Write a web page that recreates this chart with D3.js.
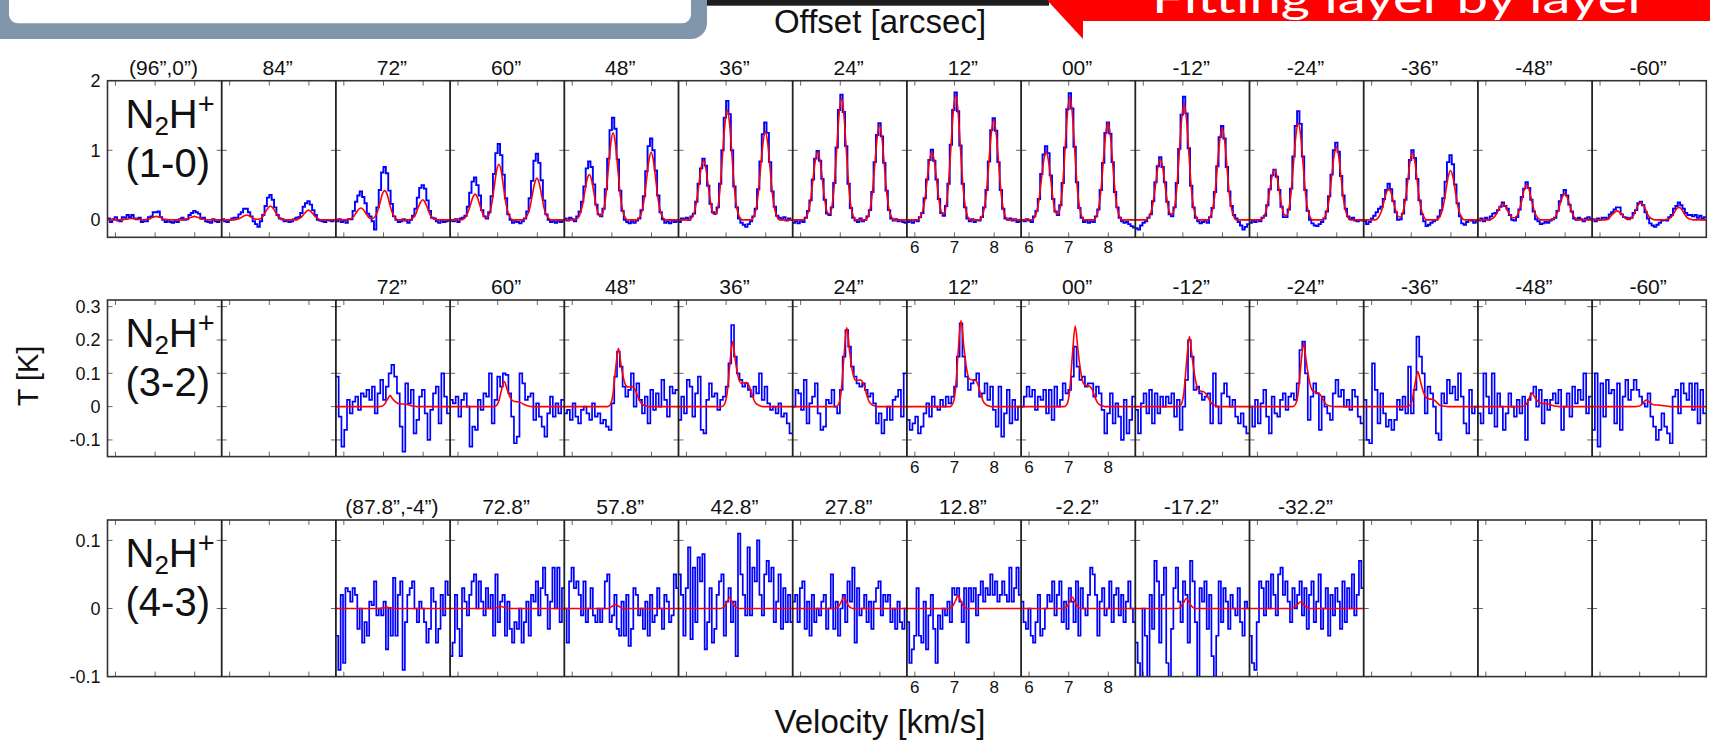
<!DOCTYPE html>
<html><head><meta charset="utf-8">
<script src="https://cdn.jsdelivr.net/npm/d3@7"></script>
<style>
body{margin:0;background:#fff;}
svg{display:block;}
text{font-family:"Liberation Sans",Arial,Helvetica,sans-serif;fill:#111;}
</style>
</head><body>
<svg id="chart" width="1710" height="742"></svg>
<script>
// ---------------- data ----------------
const velocityDomain = [5.8, 8.68];          // km/s across one panel
const velocityTicks = [6, 7, 8];
const labelledVelocityPanels = [7, 8];

const row1Offsets = ["(96”,0”)","84”","72”","60”","48”","36”","24”","12”","00”","-12”","-24”","-36”","-48”","-60”"];
const row2Offsets = ["","","72”","60”","48”","36”","24”","12”","00”","-12”","-24”","-36”","-48”","-60”"];
const row3Offsets = ["","","(87.8”,-4”)","72.8”","57.8”","42.8”","27.8”","12.8”","-2.2”","-17.2”","-32.2”","","",""];

const row1YTicks = [0, 1, 2];
const row2YTicks = [-0.1, 0, 0.1, 0.2, 0.3];
const row3YTicks = [-0.1, 0, 0.1];

// N2H+ (1-0): channel width 0.06 km/s, values in 0.01 K
const row1Blue = [
[2,-3,1,4,-1,-2,4,3,7,4,7,2,1,3,-3,-2,-2,4,5,11,11,12,4,0,-3,-1,-3,-4,-2,-3,1,3,0,1,7,10,13,11,9,2,3,-2,-3,-4,1,-2,-3,0],
[1,-2,-3,0,2,3,3,8,11,16,16,11,5,-2,-6,-10,-2,7,20,32,36,29,18,7,2,1,-2,-1,-3,-2,1,3,4,10,19,24,27,22,14,7,0,-1,-2,-3,0,-1,-2,0],
[-2,1,-3,-1,-4,1,1,13,26,35,41,33,24,9,5,-2,-14,18,43,68,76,67,42,23,5,0,-3,-2,1,-1,-4,0,6,16,32,46,50,45,28,13,3,2,-2,-4,-1,-3,-2,-1],
[-1,-2,1,-3,2,3,6,19,39,55,61,50,35,14,5,2,11,34,66,96,109,93,65,31,8,0,-4,-2,-3,-5,-2,2,12,31,56,85,95,82,57,28,8,0,-3,-2,-4,-1,-3,-2],
[2,-1,3,1,-2,5,12,26,48,74,84,76,51,22,8,5,16,44,88,129,147,131,87,42,13,0,-3,-5,-2,-4,-1,2,14,34,70,106,117,100,71,35,11,1,-4,-2,-5,-1,-3,-2],
[-3,2,1,3,0,5,9,26,52,74,88,78,49,23,11,9,18,52,100,147,171,152,100,48,18,2,-4,-7,-10,-6,-2,5,16,44,84,123,140,125,83,41,19,6,3,1,4,-1,2,0],
[-4,-2,-5,-1,-3,3,13,28,58,88,99,85,59,29,9,7,18,53,104,158,180,155,106,52,17,3,-1,-3,2,-2,0,5,14,40,83,122,139,120,82,42,14,2,-1,1,-2,0,-3,-4],
[-3,-1,-4,0,-2,4,10,31,58,86,101,85,58,30,10,6,20,52,108,158,183,156,107,52,18,2,-2,1,-3,0,-1,4,18,43,84,129,146,128,83,43,16,2,0,2,-1,1,-3,-2],
[0,-2,1,-1,-3,5,13,30,66,94,106,96,64,30,12,7,21,53,104,159,182,160,105,54,17,3,-3,-1,-4,-2,-3,5,15,43,82,125,140,124,83,40,18,3,-2,-4,-3,-6,-9,-11],
[-12,-14,-8,-4,-2,3,8,27,54,77,90,76,54,26,8,5,18,53,102,151,177,153,103,49,18,3,-2,-5,-3,-1,-4,4,17,40,77,119,135,117,76,41,20,7,2,-3,-8,-14,-10,-6],
[-4,-1,-3,0,-2,3,6,21,44,64,72,62,43,19,4,4,15,45,91,135,156,138,91,43,13,0,-5,-8,-9,-6,-3,2,12,34,65,100,111,98,63,35,16,5,1,3,-1,-2,0,-1],
[-2,-6,-3,2,6,11,16,19,30,43,52,44,27,11,0,1,9,29,59,86,100,89,59,28,8,-2,-9,-7,-4,-2,0,5,14,31,55,83,93,80,51,24,5,-5,-7,-3,0,-1,-4,-2],
[-1,2,-2,3,0,5,9,10,14,19,25,20,16,7,0,-1,4,15,33,45,54,46,29,12,1,-2,-6,-5,-3,-4,-1,1,3,13,27,36,43,35,22,12,2,0,3,1,-2,2,4,1],
[1,-2,2,0,3,3,2,8,11,15,18,18,8,4,3,1,3,10,14,24,26,21,11,2,-5,-8,-10,-7,-4,-1,0,-1,4,7,16,20,25,21,16,10,7,7,5,7,3,6,2,4]
];
const row1Model = [
[0,0,0,0,0,0,0,1,1,2,2,2,1,1,0,0,1,1,3,4,5,4,3,1,1,0,0,0,0,0,0,0,1,1,3,4,5,4,3,1,1,0,0,0,0,0,0,0],
[0,0,0,0,0,0,1,2,4,6,7,6,4,2,1,1,2,6,12,17,20,17,12,6,2,1,0,0,0,0,0,0,2,4,8,12,14,12,8,4,2,0,0,0,0,0,0,0],
[0,0,0,0,0,1,2,5,10,15,17,15,10,5,2,2,5,12,24,37,42,37,24,12,5,1,0,0,0,0,0,1,3,8,17,25,29,25,17,8,3,1,0,0,0,0,0,0],
[0,0,0,0,0,1,4,11,21,32,37,32,21,11,4,3,9,23,46,70,80,70,46,23,9,2,0,0,0,0,0,2,7,17,35,52,60,52,35,17,7,2,0,0,0,0,0,0],
[0,0,0,0,0,2,7,19,38,57,65,57,38,19,7,6,14,36,73,109,125,109,73,36,14,4,0,0,0,0,0,3,11,28,56,84,97,84,56,28,11,3,0,0,0,0,0,0],
[0,0,0,0,0,3,9,25,49,74,85,74,49,25,9,8,17,46,92,137,158,137,92,46,17,5,0,0,0,0,0,4,14,37,74,110,127,110,74,37,14,4,0,0,0,0,0,0],
[0,0,0,0,0,3,11,28,57,85,98,85,57,28,11,8,19,51,102,152,175,152,102,51,19,5,0,0,0,0,0,4,15,39,79,118,136,118,79,39,15,4,0,0,0,0,0,0],
[0,0,0,0,0,3,11,28,57,85,98,85,57,28,11,8,20,52,104,156,179,156,104,52,20,5,0,0,0,0,0,4,16,42,84,125,144,125,84,42,16,4,0,0,0,0,0,0],
[0,0,0,0,0,3,11,28,57,85,98,85,57,28,11,8,19,51,103,154,177,154,103,51,19,5,0,0,0,0,0,4,15,41,81,122,140,122,81,41,15,4,0,0,0,0,0,0],
[0,0,0,0,0,3,10,25,50,76,87,76,50,25,10,8,18,48,97,145,167,145,97,48,18,5,0,0,0,0,0,4,15,38,77,115,132,115,77,38,15,4,0,0,0,0,0,0],
[0,0,0,0,0,2,8,21,42,63,72,63,42,21,8,6,15,40,81,121,139,121,81,40,15,4,0,0,0,0,0,3,12,30,61,91,105,91,61,30,12,3,0,0,0,0,0,0],
[0,0,0,0,0,1,5,13,26,39,45,39,26,13,5,4,11,28,56,84,96,84,56,28,11,3,0,0,0,0,0,2,8,21,41,62,71,62,41,21,8,2,0,0,0,0,0,0],
[0,0,0,0,0,1,3,7,13,20,23,20,13,7,3,3,6,15,29,44,50,44,29,15,6,2,0,0,0,0,0,1,4,11,22,33,38,33,22,11,4,1,0,0,0,0,0,0],
[0,0,0,0,0,0,1,4,8,11,13,11,8,4,1,1,3,7,15,22,25,22,15,7,3,1,0,0,0,0,0,1,2,5,10,16,18,16,10,5,2,1,0,0,0,0,0,0]
];

// N2H+ (3-2): channel width 0.07 km/s, values in mK
const row2Blue = [
null, null,
[90,-30,-120,-70,20,-20,15,30,-10,40,30,50,20,60,-20,40,80,20,60,100,125,90,40,-60,-135,70,10,50,-80,-40,30,50,-20,-100,-10,40,60,-50,100,30,-20],
[20,10,30,-30,20,40,0,-120,-60,-70,20,-10,40,30,100,-50,20,90,60,100,95,40,-30,-110,-90,100,70,20,30,40,-40,10,-30,-60,-90,-20,30,-30,10,-20,20],
[-20,-10,-40,10,-30,-50,-10,0,-20,-40,10,-30,-20,-50,-40,-60,-70,10,90,165,120,60,30,50,100,0,70,20,-20,30,-50,50,-10,40,0,80,20,-30,60,40,50],
[-40,30,-20,80,60,-30,40,90,-70,-80,20,70,30,40,-10,20,30,60,130,245,150,100,80,60,70,50,30,60,40,100,20,60,10,-10,0,-20,10,-30,-20,-50,-80],
[0,50,40,-10,80,-50,10,30,70,-20,-70,-60,20,10,50,0,-20,50,150,230,180,120,90,70,60,70,50,30,40,10,-50,-20,-80,-40,0,-40,20,30,50,-30,100],
[-40,-70,-50,-30,-80,-60,-20,10,-30,30,0,-10,20,0,30,10,30,60,150,250,150,90,50,70,80,100,30,40,70,20,60,-10,-60,60,-90,-20,50,-50,20,-40,0],
[0,30,60,30,50,-10,30,20,50,-20,50,-40,60,0,20,70,40,50,90,180,120,80,90,60,70,70,30,60,40,-10,-80,-20,40,-50,10,-30,-100,20,-80,-40,30],
[-10,-80,10,40,-20,50,-50,40,-20,30,0,30,10,40,-30,20,-70,0,80,200,150,50,60,40,20,30,40,-50,100,0,-50,40,70,30,0,20,-30,-50,-20,-60,-80],
[0,-60,20,-50,10,50,-30,-80,30,-20,-30,20,40,-10,30,40,20,70,170,195,100,-40,30,70,40,-70,30,0,-20,-40,40,80,30,50,0,20,-10,50,30,-30,-50],
[20,-100,-110,130,50,-50,40,-20,-60,-40,-70,-40,20,-10,30,-20,120,-20,50,210,150,100,-20,60,40,0,-80,-100,40,10,80,40,60,20,100,30,-50,-80,50,-20,0],
[-20,-50,100,30,-20,100,-60,40,0,-70,-20,40,0,-30,20,-20,30,-100,20,40,60,0,50,-50,20,-10,20,40,10,50,-70,0,40,-30,60,10,50,20,100,-20,30],
[-70,100,-120,70,-30,80,40,50,-50,70,-70,30,80,20,50,80,50,30,10,0,40,-30,-60,-100,-70,-20,-60,-80,-110,30,50,-20,70,40,20,70,-10,70,-50,50,-20]
];
const row2Model = [
null, null,
[0,0,0,0,0,0,0,0,0,0,0,0,0,0,0,0,1,7,21,33,23,14,9,8,8,7,4,2,1,0,0,0,0,0,0,0,0,0,0,0,0],
[0,0,0,0,0,0,0,0,0,0,0,0,0,0,0,0,2,15,49,75,53,30,18,15,14,12,7,3,1,0,0,0,0,0,0,0,0,0,0,0,0],
[0,0,0,0,0,0,0,0,0,0,0,0,0,0,0,0,5,35,114,175,123,79,60,59,60,51,30,12,5,2,0,0,0,0,0,0,0,0,0,0,0],
[0,0,0,0,0,0,0,0,0,0,0,0,0,0,0,0,6,39,127,195,137,90,70,71,72,61,36,14,6,2,0,0,0,0,0,0,0,0,0,0,0],
[0,0,0,0,0,0,0,0,0,0,0,0,0,0,0,0,7,47,154,237,166,107,80,79,80,68,40,16,6,2,0,0,0,0,0,0,0,0,0,0,0],
[0,0,0,0,0,0,0,0,0,0,0,0,0,0,0,0,8,52,168,258,181,114,83,80,80,68,40,16,6,2,0,0,0,0,0,0,0,0,0,0,0],
[0,0,0,0,0,0,0,0,0,0,0,0,0,0,0,0,7,48,157,242,169,104,69,63,62,53,31,12,5,2,0,0,0,0,0,0,0,0,0,0,0],
[0,0,0,0,0,0,0,0,0,0,0,0,0,0,0,0,6,42,137,210,147,88,54,47,45,38,23,9,4,1,0,0,0,0,0,0,0,0,0,0,0],
[0,0,0,0,0,0,0,0,0,0,0,0,0,0,0,0,6,38,124,190,133,80,50,44,42,36,21,8,3,1,0,0,0,0,0,0,0,0,0,0,0],
[0,0,0,0,0,0,0,0,0,0,0,0,0,0,0,0,3,21,68,105,74,44,27,23,22,19,11,4,2,1,0,0,0,0,0,0,0,0,0,0,0],
[0,0,0,0,0,0,0,0,0,0,0,0,0,0,0,0,1,8,26,40,28,17,11,9,9,8,5,2,1,0,0,0,0,0,0,0,0,0,0,0,0],
[0,0,0,0,0,0,0,0,0,0,0,0,0,0,0,0,1,4,13,20,14,8,5,5,4,3,2,1,0,0,0,0,0,0,0,0,0,0,0,0,0]
];

// N2H+ (4-3): channel width 0.06 km/s, values in mK
const row3Blue = [
null, null,
[-40,-90,20,-80,30,25,10,30,20,-30,0,-50,-20,-40,10,5,40,-10,0,-10,10,-60,0,-40,45,-40,20,40,-90,-20,20,30,40,0,-20,10,0,-20,-50,-30,30,10,-50,-30,20,-10,40,20],
[-70,-50,20,-30,-70,30,10,-10,20,40,50,0,40,10,-10,30,0,20,-40,50,-20,10,20,-40,10,-30,-50,-20,-30,0,-50,-20,10,-40,20,10,40,-10,30,60,20,-30,10,60,0,60,-20,30],
[0,-50,40,60,30,40,20,-10,40,-20,0,30,-10,-20,0,-20,0,40,50,-20,-10,20,-30,-40,10,-40,20,-55,-30,30,20,-10,0,-30,10,-40,20,-20,-10,30,0,-30,20,10,-20,-10,50,30],
[50,20,-40,30,90,-45,60,-20,75,40,80,-60,-20,30,-50,-30,20,40,50,-40,10,30,-20,10,-70,110,50,20,-10,90,-10,60,40,100,20,-10,50,70,40,60,-20,10,50,-30,30,-20,20,-20],
[10,20,-20,30,40,-30,10,-40,20,-20,0,-10,10,20,-30,0,50,-30,10,-40,0,20,-20,40,10,60,-50,30,-10,0,20,-20,10,-30,10,30,40,-10,20,10,20,-20,0,-30,10,-20,-30,0],
[-20,-80,-60,-40,30,-40,-50,10,-60,-10,20,-30,-80,-10,-30,0,-10,10,-20,30,20,30,10,-20,30,-50,30,10,30,-10,20,40,10,30,20,50,20,40,10,20,40,20,10,60,10,30,60,20],
[10,-20,-30,0,-40,-50,-20,20,-40,-30,0,20,10,40,-10,20,40,-20,10,-30,30,10,-20,40,-40,30,0,-10,20,60,50,20,-40,10,30,-10,0,40,-20,20,30,-10,20,-20,10,40,0,-20],
[-50,-80,-100,0,-40,-100,20,-30,70,40,-50,20,60,-80,-100,-30,30,60,10,-20,40,20,-50,70,40,-20,-100,30,10,40,-30,20,-70,-100,-40,40,-20,30,10,-30,20,0,-10,30,-20,-40,10,0],
[-40,-80,-90,-20,40,30,-10,40,0,50,20,-10,50,60,20,40,10,-20,30,0,20,40,-10,30,-30,20,40,-20,10,50,-30,0,30,-40,20,-10,30,10,-30,40,-20,30,0,50,-10,20,70,30],
null, null, null
];
const row3Model = [
null, null,
[0,0,0,0,0,0,0,0,0,0,0,0,0,0,0,0,0,0,0,1,1,2,1,1,0,0,0,0,0,0,0,0,0,0,0,0,0,0,0,0,0,0,0,0,0,0,0,0],
[0,0,0,0,0,0,0,0,0,0,0,0,0,0,0,0,0,0,0,1,2,3,2,1,0,0,0,0,0,0,0,0,0,0,0,0,0,0,0,0,0,0,0,0,0,0,0,0],
[0,0,0,0,0,0,0,0,0,0,0,0,0,0,0,0,0,0,0,2,4,6,4,2,0,0,0,0,0,0,0,0,0,0,0,0,0,0,0,0,0,0,0,0,0,0,0,0],
[0,0,0,0,0,0,0,0,0,0,0,0,0,0,0,0,0,0,1,4,10,16,10,4,1,0,0,0,0,0,0,0,0,0,0,0,0,0,0,0,0,0,0,0,0,0,0,0],
[0,0,0,0,0,0,0,0,0,0,0,0,0,0,0,0,0,0,1,4,11,17,11,4,1,0,0,0,0,0,0,0,0,0,0,0,0,0,0,0,0,0,0,0,0,0,0,0],
[0,0,0,0,0,0,0,0,0,0,0,0,0,0,0,0,0,0,1,5,12,19,12,5,1,0,0,0,0,0,0,0,0,0,0,0,0,0,0,0,0,0,0,0,0,0,0,0],
[0,0,0,0,0,0,0,0,0,0,0,0,0,0,0,0,0,0,1,4,11,17,11,4,1,0,0,0,0,0,0,0,0,0,0,0,0,0,0,0,0,0,0,0,0,0,0,0],
[0,0,0,0,0,0,0,0,0,0,0,0,0,0,0,0,0,0,1,4,10,15,10,4,1,0,0,0,0,0,0,0,0,0,0,0,0,0,0,0,0,0,0,0,0,0,0,0],
[0,0,0,0,0,0,0,0,0,0,0,0,0,0,0,0,0,0,1,3,7,10,7,3,1,0,0,0,0,0,0,0,0,0,0,0,0,0,0,0,0,0,0,0,0,0,0,0],
null, null, null
];

const transitions = ["(1-0)", "(3-2)", "(4-3)"];

// ---------------- layout ----------------
const panelLeft = 107.5, panelWidth = 114.2, panelCount = 14;
const rowTops = [80.7, 300, 520], rowHeight = 156.6;
const rowCfg = [
  {offsets: row1Offsets, blue: row1Blue, model: row1Model, unit: 0.01,  dv: 0.06, yDomain: [-0.25, 2],   yTicks: row1YTicks},
  {offsets: row2Offsets, blue: row2Blue, model: row2Model, unit: 0.001, dv: 0.07, yDomain: [-0.15, 0.32], yTicks: row2YTicks},
  {offsets: row3Offsets, blue: row3Blue, model: row3Model, unit: 0.001, dv: 0.06, yDomain: [-0.1, 0.13],  yTicks: row3YTicks}
];

const svg = d3.select("#chart");

// slide decorations
const deco = svg.append("g");
deco.append("rect").attr("x",-20).attr("y",-40).attr("width",727).attr("height",79).attr("rx",16).attr("fill","#8096ab");
deco.append("rect").attr("x",9).attr("y",-40).attr("width",682).attr("height",63.3).attr("rx",9).attr("fill","#fff");
deco.append("rect").attr("x",707).attr("y",0).attr("width",342).attr("height",5.7).attr("fill","#1e1e1e");
deco.append("path").attr("d","M1047,0 L1083,39 L1083,21 L1710,21 L1710,0 Z").attr("fill","#ff0000");
deco.append("text").attr("x",1152).attr("y",13).attr("font-size",40).attr("textLength",496)
  .attr("lengthAdjust","spacingAndGlyphs").style("font-family","Lato, 'Open Sans', sans-serif").style("fill","#fff")
  .text("Fitting layer by layer");

// axis titles
svg.append("text").attr("x",880).attr("y",33).attr("text-anchor","middle").attr("font-size",33).text("Offset [arcsec]");
svg.append("text").attr("x",880).attr("y",733).attr("text-anchor","middle").attr("font-size",33).text("Velocity [km/s]");
svg.append("text").attr("transform","translate(38,376) rotate(-90)").attr("text-anchor","middle").attr("font-size",29).text("T [K]");

rowCfg.forEach((row, r) => {
  const top = rowTops[r], bottom = top + rowHeight;
  const g = svg.append("g");
  const y = d3.scaleLinear().domain(row.yDomain).range([bottom, top]);
  const clipId = "clip" + r;
  svg.append("clipPath").attr("id", clipId).append("rect")
    .attr("x", panelLeft).attr("y", top).attr("width", panelWidth * panelCount).attr("height", rowHeight);

  // y tick labels
  row.yTicks.forEach(t => {
    g.append("text").attr("x", panelLeft - 7).attr("y", y(t)).attr("dy","0.36em")
      .attr("text-anchor","end").attr("font-size",18).text(String(t));
  });

  // ticks
  const tickG = g.append("g").attr("stroke","#666").attr("stroke-width",1);
  for (let b = 0; b <= panelCount; b++) {
    const xb = panelLeft + b * panelWidth;
    row.yTicks.forEach(t => {
      const x1 = b === 0 ? xb : xb - 5, x2 = b === panelCount ? xb : xb + 5;
      tickG.append("line").attr("x1",x1).attr("x2",x2).attr("y1",y(t)).attr("y2",y(t));
    });
  }

  const dataG = g.append("g").attr("clip-path", `url(#${clipId})`);

  for (let p = 0; p < panelCount; p++) {
    const x = d3.scaleLinear().domain(velocityDomain).range([panelLeft + p * panelWidth, panelLeft + (p + 1) * panelWidth]);
    velocityTicks.forEach(v => {
      tickG.append("line").attr("x1",x(v)).attr("x2",x(v)).attr("y1",top).attr("y2",top+5);
      tickG.append("line").attr("x1",x(v)).attr("x2",x(v)).attr("y1",bottom-5).attr("y2",bottom);
    });
    if (labelledVelocityPanels.includes(p)) {
      velocityTicks.forEach(v => {
        g.append("text").attr("x",x(v)).attr("y",bottom + 16).attr("text-anchor","middle").attr("font-size",17).text(v);
      });
    }
    // offset label
    if (row.offsets[p]) {
      g.append("text").attr("x", panelLeft + p * panelWidth + 56).attr("y", top - 6)
        .attr("text-anchor","middle").attr("font-size",21).text(row.offsets[p]);
    }
    const blue = row.blue[p], model = row.model[p];
    if (blue) {
      const v0 = velocityDomain[0];
      const pts = blue.map((val, i) => [v0 + i * row.dv, val * row.unit]);
      pts.push([v0 + blue.length * row.dv, blue[blue.length - 1] * row.unit]);
      const line = d3.line().curve(d3.curveStepAfter).x(d => x(d[0])).y(d => y(d[1]));
      dataG.append("path").attr("d", line(pts)).attr("fill","none").attr("stroke","#0000ff")
        .attr("stroke-width", r === 0 ? 1.9 : 1.7).attr("stroke-linejoin","miter");
    }
    if (model) {
      const v0 = velocityDomain[0];
      const pts = model.map((val, i) => [v0 + (i + 0.5) * row.dv, val * row.unit]);
      pts.unshift([v0, model[0] * row.unit]);
      pts.push([velocityDomain[1], model[model.length - 1] * row.unit]);
      const line = d3.line().curve(d3.curveMonotoneX).x(d => x(d[0])).y(d => y(d[1]));
      dataG.append("path").attr("d", line(pts)).attr("fill","none").attr("stroke","#ff0000").attr("stroke-width",1.6);
    }
  }

  // frames
  const frameG = g.append("g").attr("fill","none");
  frameG.append("rect").attr("x",panelLeft).attr("y",top).attr("width",panelWidth*panelCount).attr("height",rowHeight)
    .attr("stroke","#333").attr("stroke-width",1.6);
  for (let b = 1; b < panelCount; b++) {
    const xb = panelLeft + b * panelWidth;
    frameG.append("line").attr("x1",xb).attr("x2",xb).attr("y1",top).attr("y2",bottom).attr("stroke","#222").attr("stroke-width",1.8);
  }

  // molecule label
  const lab = g.append("text").attr("x", panelLeft + 18).attr("y", top + 47).attr("font-size", 40);
  lab.append("tspan").text("N");
  lab.append("tspan").attr("font-size", 26).attr("dy", 7).text("2");
  lab.append("tspan").attr("dy", -7).text("H");
  lab.append("tspan").attr("font-size", 29).attr("dy", -14).style("font-weight","300").text("+");
  g.append("text").attr("x", panelLeft + 18).attr("y", top + 96).attr("font-size", 40).text(transitions[r]);
});
</script>
</body></html>
